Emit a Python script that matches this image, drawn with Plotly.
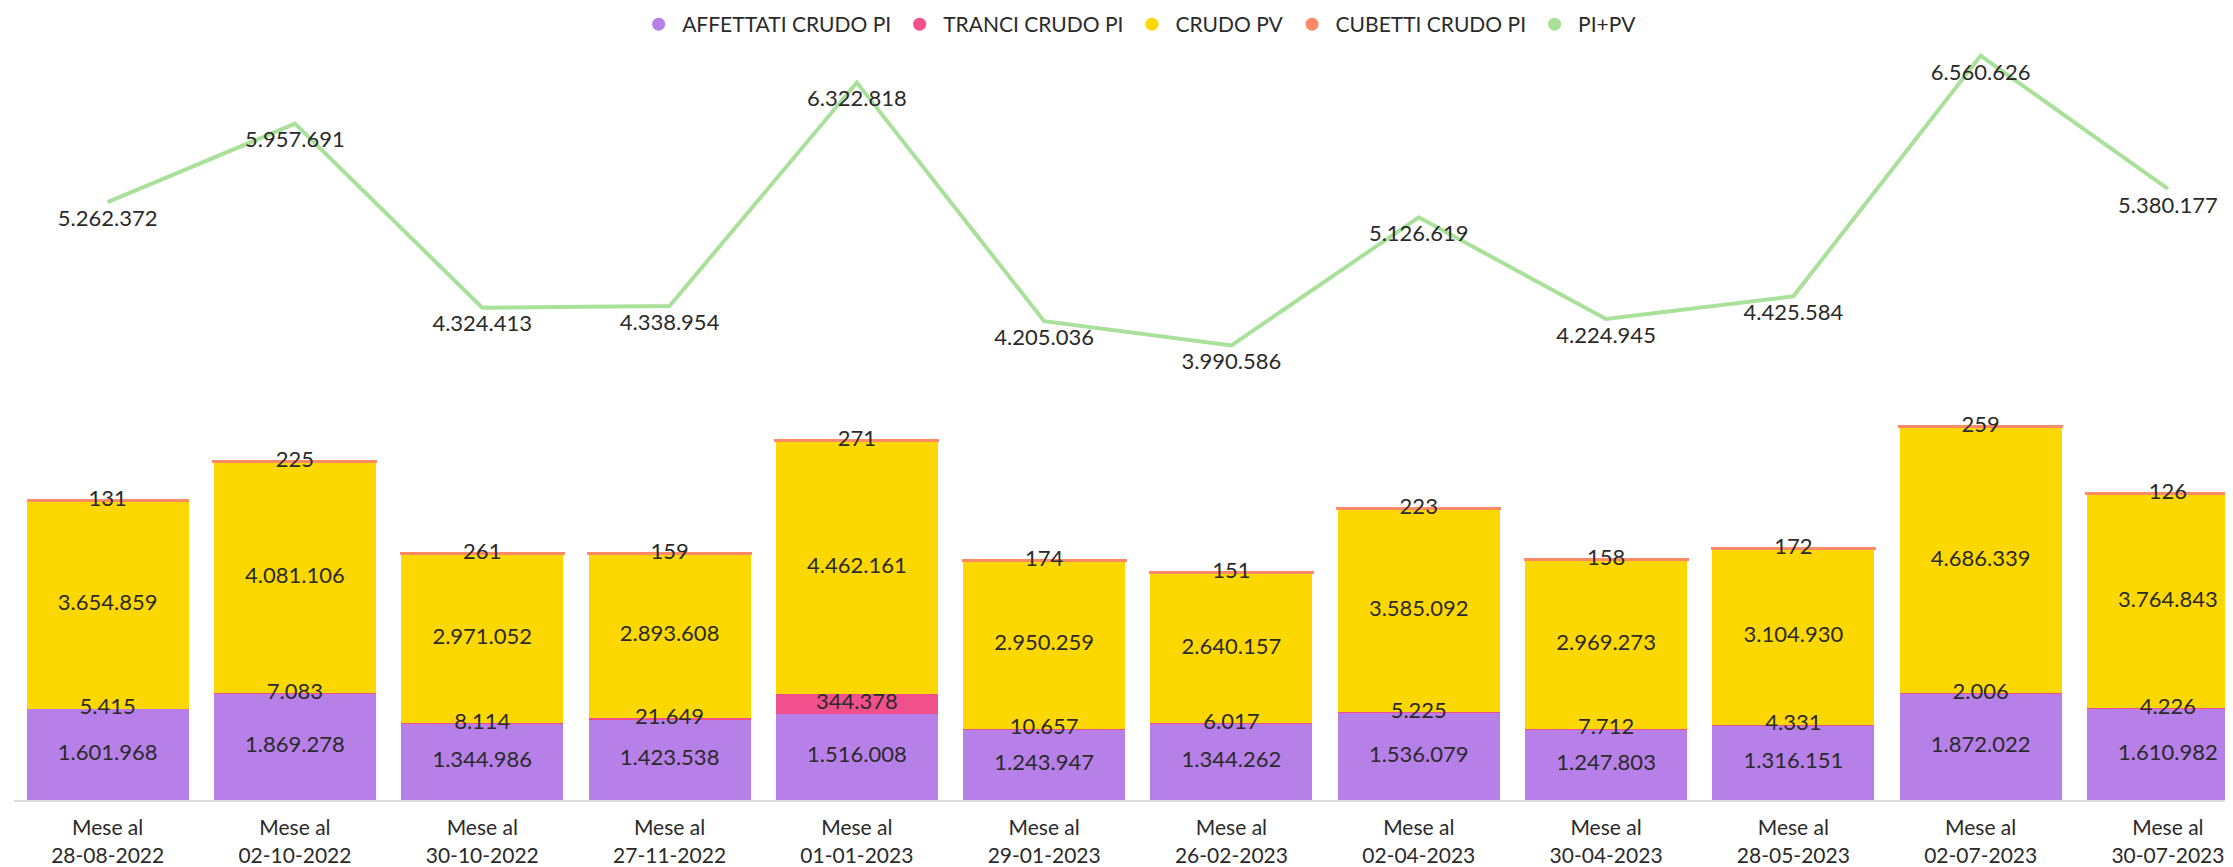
import plotly.graph_objects as go

# Data
periods = ['28-08-2022', '02-10-2022', '30-10-2022', '27-11-2022', '01-01-2023', '29-01-2023',
           '26-02-2023', '02-04-2023', '30-04-2023', '28-05-2023', '02-07-2023', '30-07-2023']
categories = ['Mese al<br>' + p for p in periods]

affettati_pi = [1601968, 1869278, 1344986, 1423538, 1516008, 1243947,
                1344262, 1536079, 1247803, 1316151, 1872022, 1610982]
tranci_pi = [5415, 7083, 8114, 21649, 344378, 10657, 6017, 5225, 7712, 4331, 2006, 4226]
crudo_pv = [3654859, 4081106, 2971052, 2893608, 4462161, 2950259,
            2640157, 3585092, 2969273, 3104930, 4686339, 3764843]
cubetti_pi = [131, 225, 261, 159, 271, 174, 151, 223, 158, 172, 259, 126]
pi_pv = [5262372, 5957691, 4324413, 4338954, 6322818, 4205036,
         3990586, 5126619, 4224945, 4425584, 6560626, 5380177]

FONT = 'Lato'
TXT = '#2a2a2a'
GREEN = '#A9E09A'

series = [
    ('AFFETTATI CRUDO PI', affettati_pi, '#B77FE8'),
    ('TRANCI CRUDO PI', tranci_pi, '#F2508C'),
    ('CRUDO PV', crudo_pv, '#FDD800'),
    ('CUBETTI CRUDO PI', cubetti_pi, '#FF8A65'),
]

fig = go.Figure()

base = [0] * len(categories)
label_y = []
for name, vals, col in series:
    # the tiny top segment gets an outline so it shows as a thin strip like the original
    line = dict(width=3, color=col) if name == 'CUBETTI CRUDO PI' else dict(width=0)
    fig.add_trace(go.Bar(
        x=categories, y=vals, name=name,
        marker=dict(color=col, line=line),
        showlegend=False, hoverinfo='y+name',
    ))
    label_y.append([b + v / 2 for b, v in zip(base, vals)])
    base = [b + v for b, v in zip(base, vals)]

# segment labels drawn on top of all bars so small ones are not hidden
for (name, vals, col), ys in zip(series, label_y):
    fig.add_trace(go.Scatter(
        x=categories, y=ys, mode='text', text=[f'{v:,}'.replace(',', '.') for v in vals],
        textposition='middle center', textfont=dict(size=22, color=TXT, family=FONT),
        showlegend=False, hoverinfo='skip',
    ))

fig.add_trace(go.Scatter(
    x=categories, y=pi_pv, name='PI+PV', yaxis='y2',
    mode='lines+markers+text', line=dict(color=GREEN, width=4),
    marker=dict(size=10, color='rgba(0,0,0,0)'),
    texttemplate='%{y:,}', textposition='bottom center',
    textfont=dict(size=22, color=TXT, family=FONT),
    showlegend=False, cliponaxis=False,
))

# legend entries with round markers
for name, col in [(s[0], s[2]) for s in series] + [('PI+PV', GREEN)]:
    fig.add_trace(go.Scatter(x=[None], y=[None], mode='markers', name=name,
                             marker=dict(color=col, size=13, symbol='circle')))

fig.update_layout(
    width=2233, height=867,
    barmode='stack', bargap=0.135,
    separators=',.',
    font=dict(family=FONT, size=20, color=TXT),
    plot_bgcolor='white', paper_bgcolor='white',
    margin=dict(l=6, r=0, t=37, b=75, autoexpand=False),
    legend=dict(orientation='h', x=0.505, xanchor='center', y=1.0, yanchor='bottom',
                traceorder='normal', font=dict(size=21, color=TXT), itemwidth=37),
    xaxis=dict(range=[-0.5, 11.39], showgrid=False, showline=True, linecolor='#dcdcdc',
               linewidth=2, ticks='', tickfont=dict(size=21, color=TXT),
               ticklabelstandoff=8, automargin=False),
    yaxis=dict(range=[0, 13270000], visible=False, showgrid=False),
    yaxis2=dict(range=[-44000, 6656000], overlaying='y', visible=False, showgrid=False),
)

fig.write_html('out.html')
